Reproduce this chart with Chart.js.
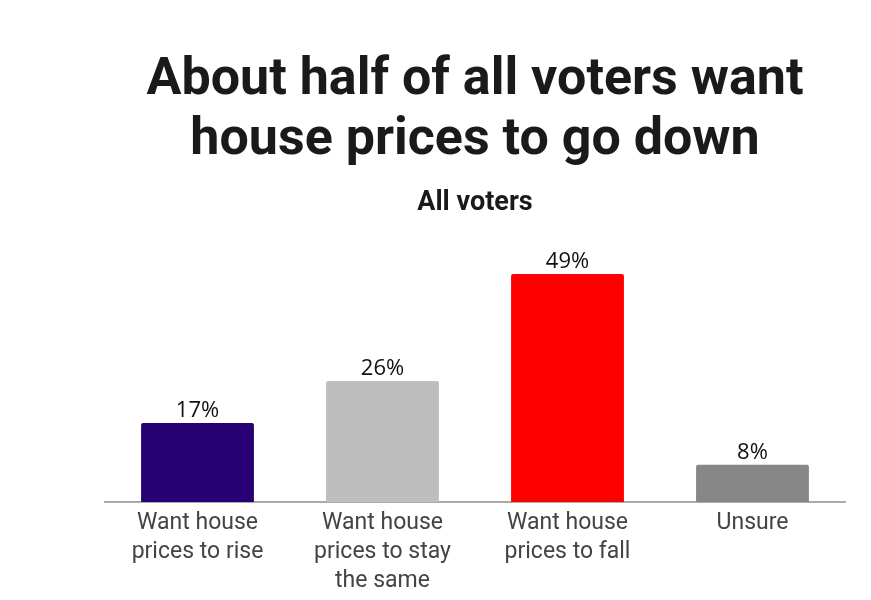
<!DOCTYPE html>
<html lang="en">
<head>
  <meta charset="UTF-8" />
  <title>House prices poll</title>
  <script src="https://cdn.jsdelivr.net/npm/chart.js"></script>
  <style>
    body {
      margin: 0;
      background: #ffffff;
    }

    .chart-container {
      width: 871px;
      height: 600px;
    }
  </style>
</head>
<body>

  <div class="chart-container">
    <canvas id="pollChart"></canvas>
  </div>

  <script>
    // chart data
    const categories = [
      ['Want house', 'prices to rise'],
      ['Want house', 'prices to stay', 'the same'],
      ['Want house', 'prices to fall'],
      ['Unsure']
    ];
    const shares = [17, 26, 49, 8];
    const barColors = ['#270073', '#bebebe', '#ff0000', '#878787'];

    // draws "xx%" above each bar
    const valueLabels = {
      id: 'valueLabels',
      afterDatasetsDraw(chart) {
        const ctx = chart.ctx;
        const meta = chart.getDatasetMeta(0);
        ctx.save();
        ctx.font = '22px "Open Sans", sans-serif';
        ctx.fillStyle = '#111111';
        ctx.textAlign = 'center';
        ctx.textBaseline = 'bottom';
        meta.data.forEach((bar, i) => {
          ctx.fillText(shares[i] + '%', bar.x, bar.y - 1);
        });
        ctx.restore();
      }
    };

    const ctx = document.getElementById('pollChart').getContext('2d');
    const pollChart = new Chart(ctx, {
      type: 'bar',
      data: {
        labels: categories,
        datasets: [{
          data: shares,
          backgroundColor: barColors,
          borderRadius: 2,
          barPercentage: 0.61,
          categoryPercentage: 1
        }]
      },
      options: {
        responsive: true,
        maintainAspectRatio: false,
        animation: false,
        layout: {
          padding: { top: 51, left: 105, right: 26, bottom: -3 }
        },
        plugins: {
          legend: { display: false },
          tooltip: { enabled: false },
          title: {
            display: true,
            text: ['About half of all voters want', 'house prices to go down'],
            color: '#1a1a1a',
            font: { family: 'Roboto, sans-serif', size: 52, weight: 'bold', lineHeight: 1.154 },
            padding: { top: 0, bottom: 9 }
          },
          subtitle: {
            display: true,
            text: 'All voters',
            color: '#1a1a1a',
            font: { family: 'Roboto, sans-serif', size: 27, weight: 'bold', lineHeight: 1.2 },
            padding: { top: 7, bottom: 8 }
          }
        },
        scales: {
          x: {
            grid: { display: false, drawTicks: false },
            border: { display: true, color: '#aaaaaa', width: 2 },
            ticks: {
              color: '#444444',
              padding: 7,
              maxRotation: 0,
              autoSkip: false,
              font: { family: 'Roboto, sans-serif', size: 23, lineHeight: 1.26 }
            }
          },
          y: {
            display: false,
            min: 0,
            max: 59
          }
        }
      },
      plugins: [valueLabels]
    });
  </script>
</body>
</html>
